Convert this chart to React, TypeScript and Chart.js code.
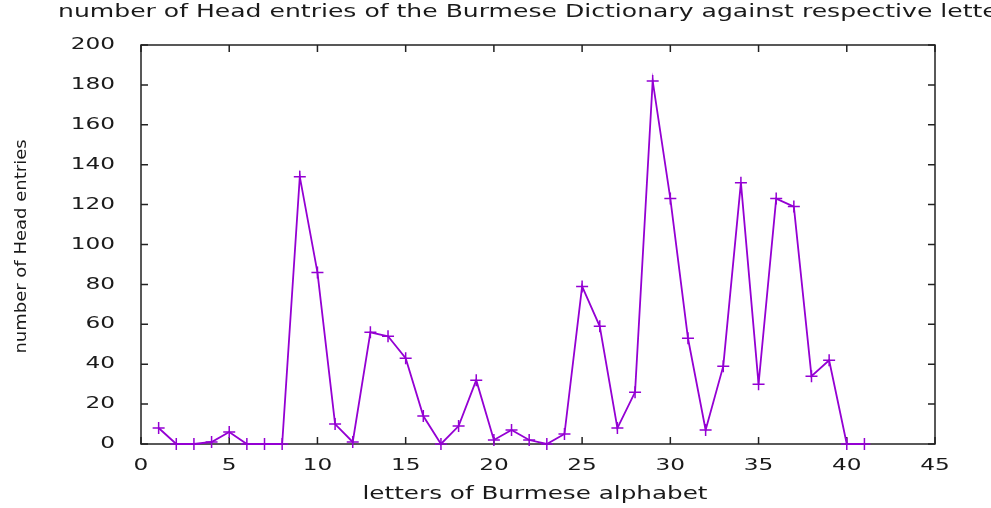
import React, { useEffect, useRef } from "react";
import { Chart, registerables } from "chart.js";

Chart.register(...registerables);

const letters = [1, 2, 3, 4, 5, 6, 7, 8, 9, 10, 11, 12, 13, 14, 15, 16, 17, 18, 19, 20, 21, 22, 23, 24, 25, 26, 27, 28, 29, 30, 31, 32, 33, 34, 35, 36, 37, 38, 39, 40, 41];
const headEntries = [8, 0, 0, 1, 6, 0, 0, 0, 134, 86, 10, 1, 56, 54, 43, 14, 0, 9, 32, 2, 7, 2, 0, 5, 79, 59, 8, 26, 182, 123, 53, 7, 39, 131, 30, 123, 119, 34, 42, 0, 0];

const xTicks = [0, 5, 10, 15, 20, 25, 30, 35, 40, 45];
const yTicks = [0, 20, 40, 60, 80, 100, 120, 140, 160, 180, 200];

const titleText = "number of Head entries of the Burmese Dictionary against respective letters";
const xTitle = "letters of Burmese alphabet";
const yTitle = "number of Head entries";

const FONT = '"DejaVu Sans", sans-serif';
const STRETCH = 1.45;
const TITLE_STRETCH = 1.475;
const TEXT_COLOR = "#1a1a1a";
const LINE_COLOR = "#9400d3";

function stretchedText(ctx: CanvasRenderingContext2D, text: string, x: number, y: number, align: CanvasTextAlign, size: number, sx: number) {
  ctx.save();
  ctx.translate(x, y);
  ctx.scale(sx, 1);
  ctx.font = `${size}px ${FONT}`;
  ctx.textAlign = align;
  ctx.textBaseline = "middle";
  ctx.fillStyle = TEXT_COLOR;
  ctx.fillText(text, 0, 0);
  ctx.restore();
}

const framePlugin = {
  id: "gnuplotFrame",
  beforeDatasetsDraw(chart: any) {
    const { ctx, chartArea: a, scales } = chart;
    const xs = scales.x;
    const ys = scales.y;
    ctx.save();
    ctx.strokeStyle = "#222";
    ctx.lineWidth = 1.5;
    ctx.strokeRect(a.left, a.top, a.right - a.left, a.bottom - a.top);
    const tl = 7;
    ctx.beginPath();
    xTicks.forEach((v) => {
      const px = xs.getPixelForValue(v);
      ctx.moveTo(px, a.bottom);
      ctx.lineTo(px, a.bottom - tl);
      ctx.moveTo(px, a.top);
      ctx.lineTo(px, a.top + tl);
    });
    yTicks.forEach((v) => {
      const py = ys.getPixelForValue(v);
      ctx.moveTo(a.left, py);
      ctx.lineTo(a.left + tl, py);
      ctx.moveTo(a.right, py);
      ctx.lineTo(a.right - tl, py);
    });
    ctx.stroke();
    ctx.restore();
  },
  afterDraw(chart: any) {
    const { ctx, chartArea: a, scales } = chart;
    const xs = scales.x;
    const ys = scales.y;
    xTicks.forEach((v) => {
      stretchedText(ctx, String(v), xs.getPixelForValue(v), a.bottom + 22, "center", 16, STRETCH);
    });
    yTicks.forEach((v) => {
      stretchedText(ctx, String(v), a.left - 26, ys.getPixelForValue(v), "right", 16, STRETCH);
    });
    stretchedText(ctx, titleText, 58, 13, "left", 17, TITLE_STRETCH);
    stretchedText(ctx, xTitle, (a.left + a.right) / 2 - 3, a.bottom + 51, "center", 17, STRETCH);
    ctx.save();
    ctx.translate(22, (a.top + a.bottom) / 2 + 2);
    ctx.rotate(-Math.PI / 2);
    ctx.font = `18px ${FONT}`;
    ctx.textAlign = "center";
    ctx.textBaseline = "middle";
    ctx.fillStyle = TEXT_COLOR;
    ctx.scale(1, 0.9);
    ctx.fillText(yTitle, 0, 0);
    ctx.restore();
  },
};

export default function App() {
  const ref = useRef<HTMLCanvasElement>(null);
  useEffect(() => {
    if (!ref.current) return;
    const chart = new Chart(ref.current, {
      type: "line",
      data: {
        datasets: [
          {
            data: letters.map((x, i) => ({ x, y: headEntries[i] })),
            borderColor: LINE_COLOR,
            backgroundColor: LINE_COLOR,
            borderWidth: 1.8,
            pointStyle: "cross",
            pointRadius: 6,
            pointBorderWidth: 1.5,
            pointBorderColor: LINE_COLOR,
            tension: 0,
            clip: false as any,
          },
        ],
      },
      options: {
        responsive: false,
        animation: false,
        layout: { padding: { left: 141, right: 56, top: 45, bottom: 64 } },
        plugins: { legend: { display: false }, title: { display: false }, tooltip: { enabled: false } },
        scales: {
          x: { type: "linear", min: 0, max: 45, display: false },
          y: { type: "linear", min: 0, max: 200, display: false },
        },
      },
      plugins: [framePlugin],
    });
    return () => chart.destroy();
  }, []);
  return (
    <div style={{ position: "fixed", left: 0, top: 0, width: 991, height: 508, background: "#fff" }}>
      <canvas ref={ref} width={991} height={508} style={{ display: "block" }} />
    </div>
  );
}
